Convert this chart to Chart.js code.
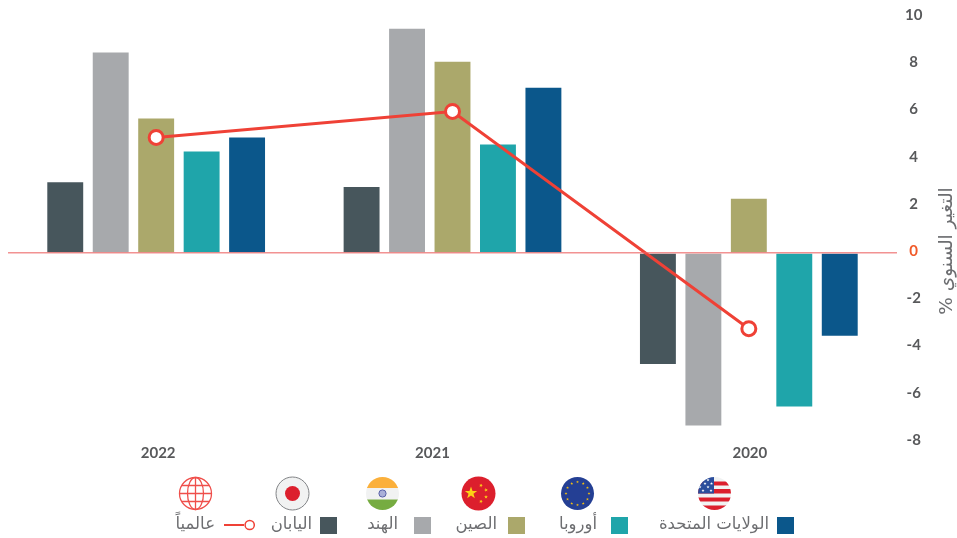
<!DOCTYPE html>
<html lang="ar">
<head>
  <meta charset="utf-8">
  <title>التغير السنوي</title>
  <style>
    html, body { margin: 0; padding: 0; background: #fff; }
    #wrap { position: relative; width: 957px; height: 538px; overflow: hidden; }
    canvas { position: absolute; left: 0; top: 0; }
    .flag { position: absolute; top: 475.7px; width: 35px; height: 35px; margin-left: -0.4px; }
    .swatch { position: absolute; top: 517px; width: 17px; height: 17px; }
    .name { position: absolute; top: 514px; direction: rtl; text-align: right; white-space: nowrap;
            font: 16.5px "DejaVu Sans", sans-serif; color: #6d6e71; transform: translateX(-100%); }
  </style>
</head>
<body>
  <div id="wrap">
    <canvas id="myChart" width="957" height="538"></canvas>

    <!-- legend row: icon on top, swatch and name underneath -->
    <svg class="flag" id="flagWorld" style="left:178px" viewBox="0 0 35 35" fill="none" stroke="#ef4f4b" stroke-width="1.3">
      <circle cx="17.5" cy="17.5" r="16"/>
      <ellipse cx="17.5" cy="17.5" rx="8" ry="16"/>
      <path d="M17.5 1.5V33.5M1.5 17.5H33.5M4 9.5H31M4 25.5H31"/>
    </svg>
    <svg class="flag" style="left:275px" viewBox="0 0 35 35">
      <circle cx="17.5" cy="17.5" r="16.5" fill="#f1f2f2" stroke="#808285" stroke-width="1"/>
      <circle cx="17.5" cy="17.5" r="7.5" fill="#dc1f2d"/>
    </svg>
    <svg class="flag" style="left:365px" viewBox="0 0 35 35">
      <clipPath id="cIn"><circle cx="17.5" cy="17.5" r="16.5"/></clipPath>
      <g clip-path="url(#cIn)">
        <rect width="35" height="12" fill="#fbb03b"/>
        <rect y="12" width="35" height="11.5" fill="#f1f2f2"/>
        <rect y="23.5" width="35" height="12" fill="#76ac41"/>
      </g>
      <circle cx="17.5" cy="17.5" r="3.6" fill="#aab0d8" stroke="#5a62a8" stroke-width="1"/>
    </svg>
    <svg class="flag" id="flagCn" style="left:461px" viewBox="0 0 35 35">
      <circle cx="17.5" cy="17.5" r="17" fill="#dc1f2d"/>
    </svg>
    <svg class="flag" id="flagEu" style="left:560px" viewBox="0 0 35 35">
      <circle cx="17.5" cy="17.5" r="16.5" fill="#243f94"/>
    </svg>
    <svg class="flag" style="left:697px" viewBox="0 0 35 35">
      <clipPath id="cUs"><circle cx="17.5" cy="17.5" r="16.5"/></clipPath>
      <g clip-path="url(#cUs)" id="flagUs">
        <rect width="35" height="35" fill="#f1f2f2"/>
        <path d="M0 5.5H35V9.5H0ZM0 13H35V17.5H0ZM0 21.5H35V25.5H0ZM0 29.5H35V35H0Z" fill="#dc1f2d"/>
        <rect width="17" height="17.5" fill="#2b4d9c"/>
      </g>
    </svg>

    <svg style="position:absolute;left:224px;top:517px" width="32" height="17" viewBox="0 0 32 17" fill="none" stroke="#ef4136" stroke-width="2">
      <path d="M0 8H20"/><circle cx="25.7" cy="8" r="4.6" fill="#fff" stroke-width="1.5"/>
    </svg>
    <div class="name" style="left:215px">عالمياً</div>

    <div class="swatch" style="left:320px;background:#47565c"></div>
    <div class="name" style="left:312px">اليابان</div>
    <div class="swatch" style="left:414px;background:#a7a9ac"></div>
    <div class="name" style="left:398px">الهند</div>
    <div class="swatch" style="left:508px;background:#aba86b"></div>
    <div class="name" style="left:497px">الصين</div>
    <div class="swatch" style="left:611px;background:#1fa5aa"></div>
    <div class="name" style="left:597px">أوروبا</div>
    <div class="swatch" style="left:777px;background:#0b578b"></div>
    <div class="name" style="left:769px">الولايات المتحدة</div>
  </div>

  <script src="https://cdn.jsdelivr.net/npm/chart.js"></script>
  <script>
    const years = ['2022', '2021', '2020'];
    const japan = [3.0, 2.8, -4.7];
    const india = [8.5, 9.5, -7.3];
    const china = [5.7, 8.1, 2.3];
    const europe = [4.3, 4.6, -6.5];
    const usa = [4.9, 7.0, -3.5];
    const world = [4.9, 6.0, -3.2];

    const yTicks = [10, 8, 6, 4, 2, 0, -2, -4, -6, -8];
    const yTitle = 'التغير السنوي %';

    // year captions do not sit exactly under their groups
    const yearNudge = [2, -20, 1];

    function starPath(cx, cy, r, rot) {
      let d = '';
      for (let i = 0; i < 10; i++) {
        const a = rot + i * Math.PI / 5 - Math.PI / 2;
        const rr = i % 2 ? r * 0.4 : r;
        d += (i ? 'L' : 'M') + (cx + rr * Math.cos(a)).toFixed(2) + ' ' + (cy + rr * Math.sin(a)).toFixed(2);
      }
      return d + 'Z';
    }
    function addStar(svg, cx, cy, r, fill, rot) {
      const p = document.createElementNS('http://www.w3.org/2000/svg', 'path');
      p.setAttribute('d', starPath(cx, cy, r, rot || 0));
      p.setAttribute('fill', fill);
      svg.appendChild(p);
    }

    const eu = document.getElementById('flagEu');
    for (let i = 0; i < 12; i++) {
      const a = i * Math.PI / 6;
      addStar(eu, 17.5 + 11.5 * Math.cos(a), 17.5 + 11.5 * Math.sin(a), 1.5, '#fcc30b');
    }
    const cn = document.getElementById('flagCn');
    addStar(cn, 10, 17, 6.5, '#fcd116');
    addStar(cn, 20, 9.5, 2, '#fcd116', 0.5);
    addStar(cn, 25, 14, 2, '#fcd116', 1);
    addStar(cn, 25, 21, 2, '#fcd116', 0);
    addStar(cn, 20, 25.5, 2, '#fcd116', 0.5);
    const us = document.getElementById('flagUs');
    [[5, 4], [11, 4], [14.5, 7.5], [8, 7.5], [3, 11], [11, 11], [6, 14.5], [14, 14.5]].forEach(function (s) {
      addStar(us, s[0], s[1], 1.6, '#ffffff');
    });

    // rotated axis title and the year captions under the plot
    const captions = {
      id: 'captions',
      afterDraw(chart) {
        const c = chart.ctx;
        const xs = chart.scales.x;
        c.save();
        c.font = 'bold 15px Lato, sans-serif';
        c.fillStyle = '#58595b';
        c.textAlign = 'center';
        c.textBaseline = 'middle';
        years.forEach(function (y, i) {
          c.fillText(y, xs.getPixelForValue(i) + yearNudge[i], 453.5);
        });
        c.translate(947, 251);
        c.rotate(-Math.PI / 2);
        c.direction = 'rtl';
        c.font = '18.5px "DejaVu Sans", sans-serif';
        c.fillStyle = '#6d6e71';
        c.fillText(yTitle, 0, 0);
        c.restore();
      }
    };

    function bar(label, data, color) {
      return {
        type: 'bar', label: label, data: data, backgroundColor: color, order: 1,
        categoryPercentage: 0.767, barPercentage: 0.79
      };
    }

    const ctx = document.getElementById('myChart');
    const chart = new Chart(ctx, {
      data: {
        labels: years,
        datasets: [
          {
            type: 'line', label: 'عالمياً', data: world, order: 0,
            borderColor: '#ef4136', borderWidth: 3, tension: 0, fill: false,
            pointRadius: 7, pointBorderWidth: 3,
            pointBackgroundColor: '#ffffff', pointBorderColor: '#ef4136'
          },
          bar('اليابان', japan, '#47565c'),
          bar('الهند', india, '#a7a9ac'),
          bar('الصين', china, '#aba86b'),
          bar('أوروبا', europe, '#1fa5aa'),
          bar('الولايات المتحدة', usa, '#0b578b')
        ]
      },
      options: {
        responsive: false,
        animation: false,
        layout: { autoPadding: false, padding: { left: 8, right: 0, top: 17, bottom: 96 } },
        plugins: { legend: { display: false }, tooltip: { enabled: false }, title: { display: false } },
        scales: {
          x: {
            grid: { display: false, drawTicks: false },
            border: { display: false },
            ticks: { display: false }
          },
          y: {
            position: 'right',
            min: -8,
            max: 10,
            afterBuildTicks(scale) { scale.ticks = yTicks.map(function (v) { return { value: v }; }); },
            afterFit(scale) { scale.width = 60; },
            border: { display: false },
            grid: {
              z: 1,
              drawTicks: false,
              lineWidth: 1.5,
              color(c) { return c.tick && c.tick.value === 0 ? 'rgba(236,100,100,0.7)' : 'rgba(0,0,0,0)'; }
            },
            ticks: {
              crossAlign: 'center',
              padding: 8,
              labelOffset: -2,
              font: { family: 'Lato, sans-serif', size: 15, weight: 'bold' },
              color(c) { return c.tick && c.tick.value === 0 ? '#f15a29' : '#58595b'; }
            }
          }
        }
      },
      plugins: [captions]
    });
  </script>
</body>
</html>
